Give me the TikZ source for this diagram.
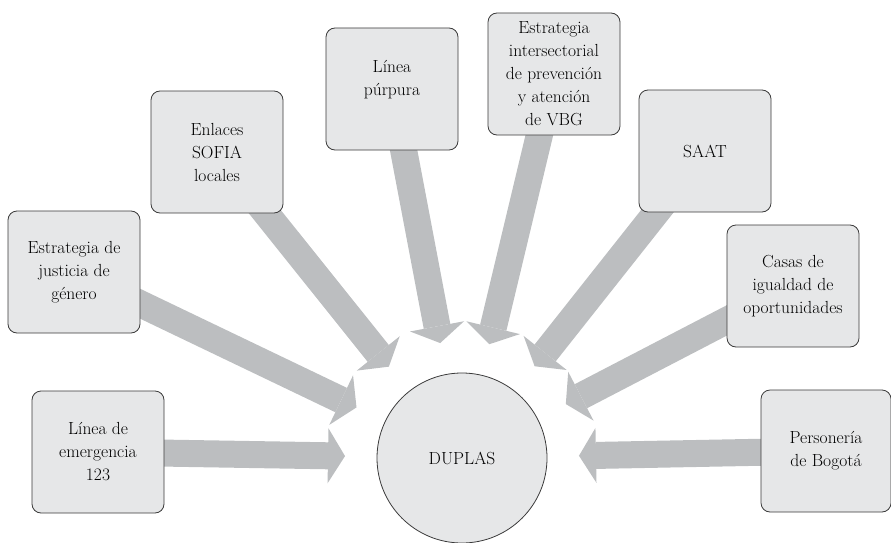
\documentclass[tikz,border=0pt]{standalone}
\usetikzlibrary{arrows.meta,backgrounds,calc}

\definecolor{boxfill}{HTML}{E6E7E8}
\definecolor{flowgray}{HTML}{BCBEC0}
\definecolor{edgegray}{HTML}{3A3A3A}

\begin{document}
\begin{tikzpicture}[x=1pt, y=-1pt,
        entity/.style={draw=edgegray, fill=boxfill, line width=0.8pt, rounded corners=9pt,
                minimum width=132pt, minimum height=122pt, inner sep=0pt, align=center,
                font=\fontsize{17.5}{23}\selectfont},
        hub/.style={circle, draw=edgegray, fill=boxfill, line width=0.8pt, minimum size=170pt,
                inner sep=0pt, font=\fontsize{17.5}{23}\selectfont},
        flow/.style={draw=flowgray, line width=27pt,
                -{Triangle[length=17pt, width=55pt, line width=0pt]}}]
        \useasboundingbox (0, 0) rectangle (891, 543);

        \node[hub] (duplas) at (462, 458) {DUPLAS};

        \node[entity] (linea)     at (98, 452)  {Línea de\\emergencia\\123};
        \node[entity] (justicia)  at (74, 272)  {Estrategia de\\justicia de\\género};
        \node[entity] (sofia)     at (217, 152) {Enlaces\\SOFIA\\locales};
        \node[entity] (purpura)   at (392, 89)  {Línea\\púrpura\\\mbox{}};
        \node[entity] (vbg)       at (554, 74)  {Estrategia\\intersectorial\\de prevención\\y atención\\de VBG};
        \node[entity] (saat)      at (705, 151) {SAAT};
        \node[entity] (casas)     at (793, 286) {Casas de\\igualdad de\\oportunidades};
        \node[entity, minimum width=130pt] (personeria) at (826, 451) {Personería\\de Bogotá};

        % flechas hacia el centro
        \begin{scope}[on background layer]
                \foreach \src in {linea, justicia, sofia, purpura, vbg, saat, casas, personeria}
                        \draw[flow] (\src.center) -- ($(duplas.center)!117pt!(\src.center)$);
        \end{scope}
\end{tikzpicture}
\end{document}
